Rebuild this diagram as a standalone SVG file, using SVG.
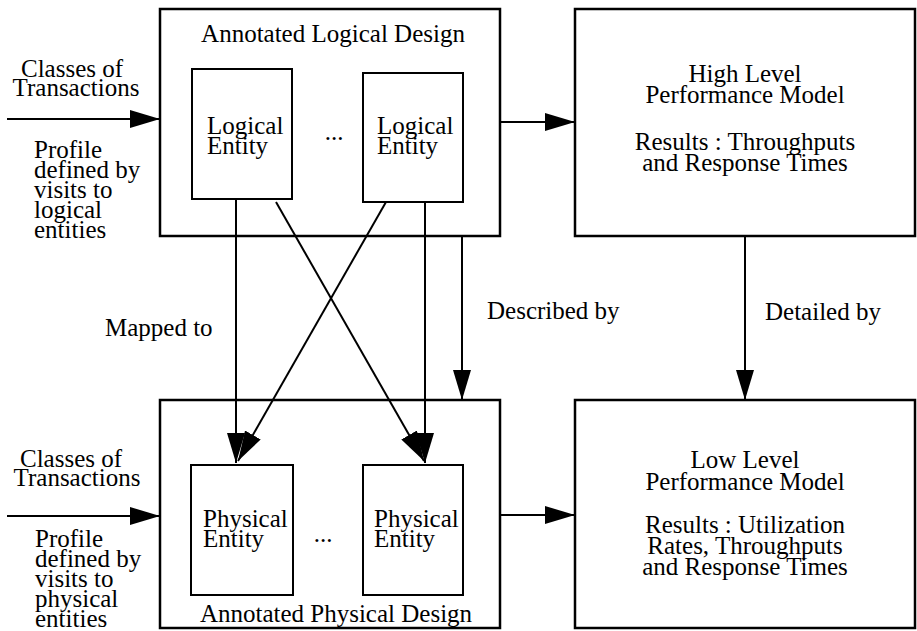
<svg xmlns="http://www.w3.org/2000/svg" width="917" height="631" viewBox="0 0 917 631">
<defs>
<style>
.box{fill:#fff;stroke:#000;stroke-width:2.5}
.ent{fill:#fff;stroke:#000;stroke-width:2}
.ln{stroke:#000;stroke-width:2;fill:none}
text{font-family:"Liberation Serif","Times New Roman",serif;font-size:25px;fill:#000}
.c{text-anchor:middle}
</style>
<marker id="ah" markerUnits="userSpaceOnUse" viewBox="0 0 30 18" markerWidth="30" markerHeight="18" refX="30" refY="9" orient="auto">
<path d="M0,0 L30,9 L0,18 z" fill="#000"/>
</marker>
</defs>
<rect width="917" height="631" fill="#fff"/>

<g id="logical-design">
<rect class="box" x="160" y="9" width="340" height="227"/>
<text x="333" y="42" class="c">Annotated Logical Design</text>
</g>
<g id="logical-entity-1">
<rect class="ent" x="192" y="69" width="100" height="130"/>
<text x="207" y="134">Logical</text>
<text x="207" y="154">Entity</text>
</g>
<g id="logical-dots"><text x="334" y="140" class="c">...</text></g>
<g id="logical-entity-2">
<rect class="ent" x="363" y="73" width="100" height="129"/>
<text x="377" y="134">Logical</text>
<text x="377" y="154">Entity</text>
</g>

<g id="high-level">
<rect class="box" x="575" y="9" width="340" height="227"/>
<text x="745" y="82" class="c">High Level</text>
<text x="745" y="103" class="c">Performance Model</text>
<text x="745" y="150" class="c">Results : Throughputs</text>
<text x="745" y="171" class="c">and Response Times</text>
</g>

<g id="physical-design">
<rect class="box" x="160" y="400" width="340" height="228"/>
<text x="336" y="622" class="c">Annotated Physical Design</text>
</g>
<g id="physical-entity-1">
<rect class="ent" x="191" y="465" width="102" height="130"/>
<text x="203" y="527">Physical</text>
<text x="203" y="547">Entity</text>
</g>
<g id="physical-dots"><text x="323" y="542" class="c">...</text></g>
<g id="physical-entity-2">
<rect class="ent" x="363" y="465" width="100" height="130"/>
<text x="374" y="527">Physical</text>
<text x="374" y="547">Entity</text>
</g>

<g id="low-level">
<rect class="box" x="575" y="400" width="340" height="228"/>
<text x="745" y="468" class="c">Low Level</text>
<text x="745" y="490" class="c">Performance Model</text>
<text x="745" y="533" class="c">Results : Utilization</text>
<text x="745" y="554" class="c">Rates, Throughputs</text>
<text x="745" y="575" class="c">and Response Times</text>
</g>

<g id="input-top">
<text x="72" y="77" class="c">Classes of</text>
<text x="76" y="96" class="c">Transactions</text>
<text x="34" y="158">Profile</text>
<text x="34" y="178">defined by</text>
<text x="34" y="198">visits to</text>
<text x="34" y="218">logical</text>
<text x="34" y="238">entities</text>
</g>
<g id="input-bottom">
<text x="71" y="467" class="c">Classes of</text>
<text x="77" y="486" class="c">Transactions</text>
<text x="35" y="547">Profile</text>
<text x="35" y="567">defined by</text>
<text x="35" y="587">visits to</text>
<text x="35" y="607">physical</text>
<text x="35" y="627">entities</text>
</g>

<g id="connectors">
<line class="ln" x1="7" y1="119" x2="160" y2="119" marker-end="url(#ah)"/>
<line class="ln" x1="7" y1="516" x2="160" y2="516" marker-end="url(#ah)"/>
<line class="ln" x1="500" y1="122" x2="575" y2="122" marker-end="url(#ah)"/>
<line class="ln" x1="500" y1="515" x2="575" y2="515" marker-end="url(#ah)"/>
<line class="ln" x1="236" y1="199" x2="236" y2="463" marker-end="url(#ah)"/>
<line class="ln" x1="425" y1="202" x2="425" y2="463" marker-end="url(#ah)"/>
<line class="ln" x1="276" y1="202" x2="424" y2="461" marker-end="url(#ah)"/>
<line class="ln" x1="386" y1="202" x2="238" y2="461" marker-end="url(#ah)"/>
<line class="ln" x1="462" y1="236" x2="462" y2="400" marker-end="url(#ah)"/>
<line class="ln" x1="745" y1="236" x2="745" y2="400" marker-end="url(#ah)"/>
<text x="105" y="336">Mapped to</text>
<text x="487" y="319">Described by</text>
<text x="765" y="320">Detailed by</text>
</g>
</svg>
